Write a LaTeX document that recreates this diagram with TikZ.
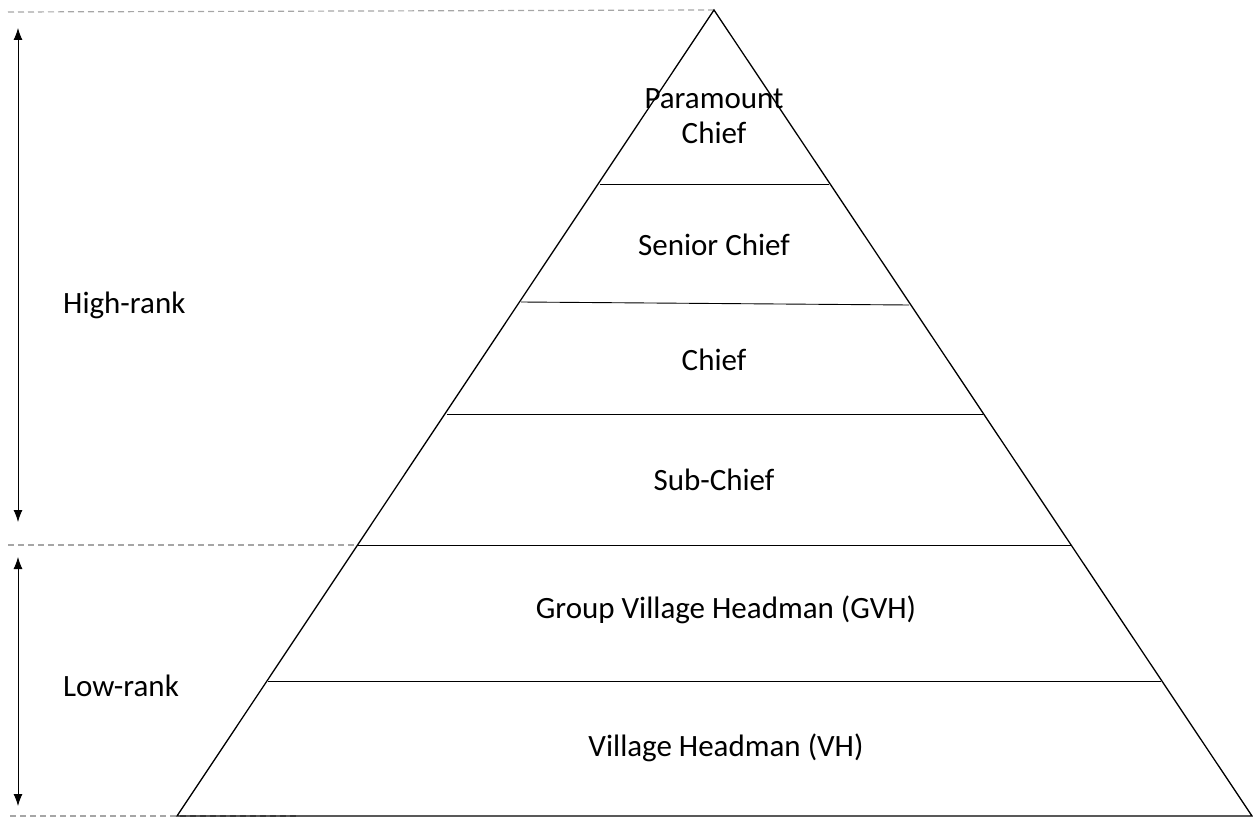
\documentclass[tikz,border=0pt]{standalone}
\usepackage{fontspec}
\setmainfont{Carlito}
\usetikzlibrary{arrows.meta}
\begin{document}
\begin{tikzpicture}[x=1pt,y=-1pt,
  lbl/.style={font=\fontsize{31}{35}\selectfont, inner sep=0pt, align=center},
  edge/.style={line width=1.3pt, black},
  tier/.style={line width=0.9pt, black},
  guide/.style={gray!70, dash pattern=on 6pt off 4pt, line width=1.2pt},
  rankarrow/.style={{Latex[length=12pt,width=9pt]}-{Latex[length=12pt,width=9pt]}, line width=0.9pt}]
\useasboundingbox (0,0) rectangle (1253,818);
% pyramid corners
\coordinate (apex) at (714,10);
\coordinate (bl) at (177,816);
\coordinate (br) at (1252,816);
% guides
\coordinate (gt) at (8,12);
\coordinate (gm) at (8,545);
\coordinate (gb) at (10,816);
\coordinate (gbe) at (297,816);
\coordinate (gme) at (358,545);
\draw[guide] (gt) -- (apex);
\draw[guide] (gm) -- (gme);
\draw[guide] (gb) -- (gbe);
% triangle
\draw[edge, line join=miter] (bl) -- (apex) -- (br) -- cycle;
% tier lines
\coordinate (l1) at (600,184); \coordinate (r1) at (829,184);
\coordinate (l2) at (521,302); \coordinate (r2) at (909,305);
\coordinate (l3) at (447,414); \coordinate (r3) at (983,414);
\coordinate (l4) at (358,545); \coordinate (r4) at (1071,545);
\coordinate (l5) at (268,681); \coordinate (r5) at (1161,681);
\draw[tier] (l1) -- (r1);
\draw[tier] (l2) -- (r2);
\draw[tier] (l3) -- (r3);
\draw[tier] (l4) -- (r4);
\draw[tier] (l5) -- (r5);
% labels
\node[lbl] (pc) at (714,116) {Paramount\\Chief};
\node[lbl] (sc) at (714,245) {Senior Chief};
\node[lbl] (ch) at (714,360) {Chief};
\node[lbl] (sub) at (714,480) {Sub-Chief};
\node[lbl] (gvh) at (726,610) {Group Village Headman (GVH)};
\node[lbl] (vh) at (726,748) {Village Headman (VH)};
\node[lbl, anchor=west] (hr) at (63,305) {High-rank};
\node[lbl, anchor=west] (lr) at (63,686) {Low-rank};
% rank arrows
\coordinate (a1t) at (18,28);
\coordinate (a1b) at (18,522);
\coordinate (a2t) at (18,557);
\coordinate (a2b) at (18,806);
\draw[rankarrow] (a1t) -- (a1b);
\draw[rankarrow] (a2t) -- (a2b);
\end{tikzpicture}
\end{document}
